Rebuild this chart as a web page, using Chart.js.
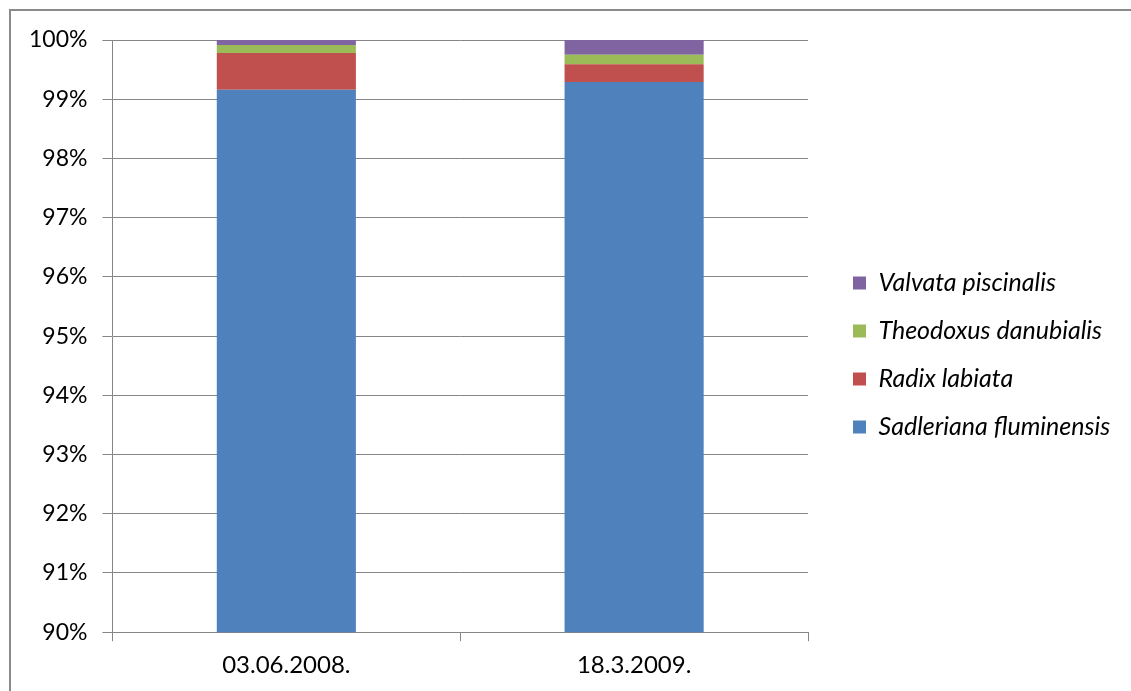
<!DOCTYPE html>
<html>
<head>
<meta charset="utf-8">
<script src="https://cdn.jsdelivr.net/npm/chart.js@4"></script>
<style>
  html, body { margin: 0; padding: 0; background: #fff; }
  #wrap { position: relative; width: 1131px; height: 691px; overflow: hidden; }
  #frame { position: absolute; left: 9px; top: 9px; width: 1140px; height: 700px; border: 2px solid #8a8a8a; box-sizing: border-box; pointer-events: none; }
  canvas { position: absolute; left: 0; top: 0; }
</style>
</head>
<body>
<div id="wrap">
  <canvas id="chart" width="1131" height="691"></canvas>
  <div id="frame"></div>
</div>
<script>
const dates = ['03.06.2008.', '18.3.2009.'];
const sadleriana = [99.16, 99.29];
const radix = [0.62, 0.30];
const theodoxus = [0.135, 0.16];
const valvata = [0.085, 0.25];
const yTicks = [90, 91, 92, 93, 94, 95, 96, 97, 98, 99, 100];

const gridGray = '#868686';
const legendWidthPx = 310;
const legendGapPx = 22;
const legendLiftPx = 10;

Chart.defaults.font.family = 'Lato, "Open Sans", sans-serif';
Chart.defaults.font.size = 23;
Chart.defaults.color = '#000';

// fixed-width legend, items pushed right and lifted a bit
const legendBox = {
  id: 'legendBox',
  afterInit(chart) {
    const fit = chart.legend.fit;
    chart.legend.fit = function () {
      fit.call(this);
      this.width = legendWidthPx;
    };
  },
  afterLayout(chart) {
    chart.legend.left += legendGapPx;
    chart.legend.top -= legendLiftPx;
    chart.legend.bottom -= legendLiftPx;
  }
};

const chartData = {
  labels: dates,
  datasets: [
    { label: 'Sadleriana fluminensis', data: sadleriana, backgroundColor: '#4F81BD' },
    { label: 'Radix labiata', data: radix, backgroundColor: '#C0504D' },
    { label: 'Theodoxus danubialis', data: theodoxus, backgroundColor: '#9BBB59' },
    { label: 'Valvata piscinalis', data: valvata, backgroundColor: '#8064A2' }
  ]
};

new Chart(document.getElementById('chart'), {
  type: 'bar',
  data: chartData,
  plugins: [legendBox],
  options: {
    responsive: false,
    animation: false,
    datasets: {
      bar: { barPercentage: 0.4, categoryPercentage: 1, borderWidth: 0 }
    },
    layout: { padding: { left: 14, top: 40, right: 13, bottom: 1 } },
    scales: {
      x: {
        stacked: true,
        grid: { drawOnChartArea: false, offset: true, tickLength: 9, color: gridGray },
        border: { color: gridGray },
        ticks: { padding: 10, font: { size: 24 } }
      },
      y: {
        stacked: true,
        min: 90,
        max: 100,
        afterBuildTicks(axis) { axis.ticks = yTicks.map(v => ({ value: v })); },
        grid: { color: gridGray, tickLength: 10 },
        border: { color: gridGray },
        ticks: { padding: 15, callback: v => v + '%' }
      }
    },
    plugins: {
      tooltip: { enabled: false },
      legend: {
        position: 'right',
        reverse: true,
        labels: {
          boxWidth: 13,
          boxHeight: 13,
          padding: 23,
          font: { style: 'italic', size: 25 }
        }
      }
    }
  }
});
</script>
</body>
</html>
